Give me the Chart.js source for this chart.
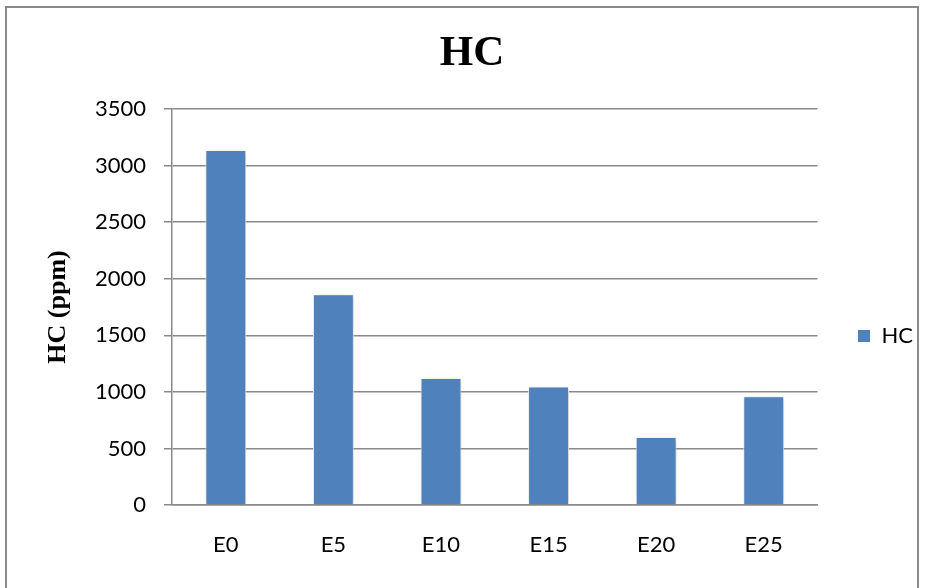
<!DOCTYPE html>
<html lang="en">
<head>
  <meta charset="UTF-8">
  <title>HC</title>
  <script src="https://cdn.jsdelivr.net/npm/chart.js"></script>
  <style>
    html, body { margin: 0; padding: 0; background: #fff; }
    #wrap { position: relative; width: 925px; height: 588px; overflow: hidden; }
    #frame { position: absolute; left: 5px; top: 6px; width: 914px; height: 620px; border: 2px solid #8a8a8a; box-sizing: border-box; }
    #chart { position: absolute; left: 0; top: 0; }
  </style>
</head>
<body>
  <div id="wrap">
    <div id="frame"></div>
    <canvas id="chart" width="925" height="588"></canvas>
  </div>

  <script>
    const categories = ['E0', 'E5', 'E10', 'E15', 'E20', 'E25'];
    const hcValues = [3138, 1862, 1122, 1047, 602, 962];
    const seriesName = 'HC';
    const yMax = 3500;
    const yStep = 500;

    // soft shadow behind the bars, like the office chart
    const barShadow = {
      id: 'barShadow',
      beforeDatasetsDraw(chart) {
        const ctx = chart.ctx;
        ctx.save();
        ctx.shadowColor = 'rgba(0,0,0,0.28)';
        ctx.shadowBlur = 5;
        ctx.shadowOffsetX = 1;
        ctx.shadowOffsetY = 1;
      },
      afterDatasetsDraw(chart) {
        chart.ctx.restore();
      }
    };

    new Chart(document.getElementById('chart'), {
      type: 'bar',
      data: {
        labels: categories,
        datasets: [{
          label: seriesName,
          data: hcValues,
          backgroundColor: '#4F81BD',
          borderColor: '#ffffff',
          borderWidth: 1,
          categoryPercentage: 1,
          barPercentage: 0.38
        }]
      },
      options: {
        responsive: false,
        animation: false,
        layout: { padding: { left: 21, right: 2, top: 0, bottom: 0 } },
        plugins: {
          title: {
            display: true,
            text: 'HC',
            color: '#000',
            font: { family: '"Liberation Serif", "Times New Roman", serif', size: 43, weight: 'bold', lineHeight: 1 },
            padding: { top: 32, bottom: 34 }
          },
          legend: {
            position: 'right',
            title: { display: true, text: ' ', font: { size: 10, lineHeight: 1.2 }, padding: { top: 72, bottom: 0 } },
            labels: {
              color: '#000',
              font: { family: 'Lato, sans-serif', size: 22 },
              boxWidth: 13,
              boxHeight: 13,
              padding: 10
            }
          },
          tooltip: { enabled: false }
        },
        scales: {
          x: {
            grid: { display: false, drawTicks: false },
            border: { display: true, color: '#8a8a8a', width: 1.5 },
            ticks: { color: '#000', font: { family: 'Lato, sans-serif', size: 22 }, padding: 27 },
            afterFit(scale) { scale.height = 83; }
          },
          y: {
            min: 0,
            max: yMax,
            ticks: {
              stepSize: yStep,
              color: '#000',
              font: { family: 'Lato, sans-serif', size: 22 },
              padding: 18,
              callback: (v) => String(v)
            },
            grid: { color: '#8a8a8a', lineWidth: 1.5, tickLength: 8 },
            border: { display: true, color: '#8a8a8a', width: 1.5 },
            title: {
              display: true,
              text: 'HC (ppm)',
              color: '#000',
              font: { family: '"Liberation Serif", "Times New Roman", serif', size: 26, weight: 'bold', lineHeight: 1.2 },
              padding: { top: 22, bottom: 0 }
            },
            afterFit(scale) { scale.width = 151; }
          },
          gap: {
            position: 'right',
            display: true,
            grid: { display: false, drawTicks: false },
            border: { display: false },
            ticks: { display: false },
            afterFit(scale) { scale.width = 30; }
          }
        }
      },
      plugins: [barShadow]
    });
  </script>
</body>
</html>
